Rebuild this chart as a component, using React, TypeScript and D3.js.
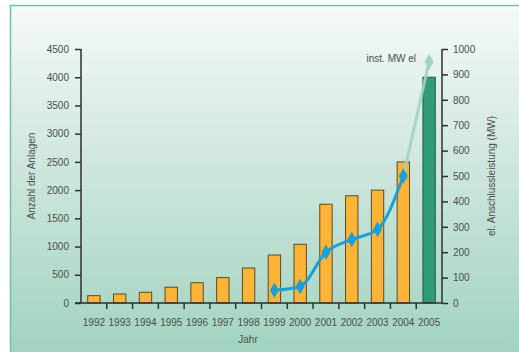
import React, { useEffect, useRef } from 'react';
import * as d3 from 'd3';

const years = ['1992', '1993', '1994', '1995', '1996', '1997', '1998', '1999', '2000', '2001', '2002', '2003', '2004', '2005'];
const anlagen = [130, 160, 190, 280, 360, 450, 620, 850, 1040, 1750, 1900, 2000, 2500, 4000];
const mwYears = ['1999', '2000', '2001', '2002', '2003', '2004', '2005'];
const mwValues = [50, 65, 200, 250, 290, 500, 950];
const leftTicks = [0, 500, 1000, 1500, 2000, 2500, 3000, 3500, 4000, 4500];
const rightTicks = [0, 100, 200, 300, 400, 500, 600, 700, 800, 900, 1000];

const W = 519;
const H = 352;

const App: React.FC = () => {
  const svgRef = useRef<SVGSVGElement>(null);

  useEffect(() => {
    if (!svgRef.current) return;
    const svg = d3.select(svgRef.current);
    svg.selectAll('*').remove();

    const left = 81, right = 442, top = 49, bottom = 303;
    const font = '"Liberation Sans Narrow", "Liberation Sans", Arial, sans-serif';
    const textColor = '#4a4f4c';
    const axisColor = '#2e302e';

    // background panel
    const defs = svg.append('defs');
    const grad = defs.append('linearGradient')
      .attr('id', 'bg').attr('x1', 0).attr('y1', 0).attr('x2', 0).attr('y2', 1);
    grad.append('stop').attr('offset', '0%').attr('stop-color', '#f6faf8');
    grad.append('stop').attr('offset', '45%').attr('stop-color', '#cfe7de');
    grad.append('stop').attr('offset', '100%').attr('stop-color', '#a2d3c0');

    svg.append('rect').attr('width', W).attr('height', H).attr('fill', '#ffffff');
    svg.append('rect')
      .attr('x', 10).attr('y', 5).attr('width', W - 10).attr('height', H - 5)
      .attr('fill', 'url(#bg)');
    svg.append('path')
      .attr('d', `M10.5,${H} V5.5 H${W}`)
      .attr('fill', 'none').attr('stroke', '#6fc2a4').attr('stroke-width', 1.5);

    const x = d3.scaleBand<string>().domain(years).range([left, right]).paddingInner(0.52).paddingOuter(0.26);
    const yL = d3.scaleLinear().domain([0, 4500]).range([bottom, top]);
    const yR = d3.scaleLinear().domain([0, 1000]).range([bottom, top]);
    const step = x.step();

    // bars
    svg.append('g')
      .selectAll('rect')
      .data(years)
      .enter()
      .append('rect')
      .attr('x', d => x(d)! )
      .attr('y', (d, i) => yL(anlagen[i]))
      .attr('width', x.bandwidth())
      .attr('height', (d, i) => bottom - yL(anlagen[i]))
      .attr('fill', d => d === '2005' ? '#2f9b78' : '#fbb436')
      .attr('stroke', d => d === '2005' ? '#2a5a48' : '#5e4a28')
      .attr('stroke-width', 1);

    // left axis
    const gL = svg.append('g').attr('transform', `translate(${left},0)`)
      .call(d3.axisLeft(yL).tickValues(leftTicks).tickSize(6).tickPadding(6).tickFormat(d3.format('d')));
    gL.select('.domain').attr('stroke', axisColor).attr('stroke-width', 1.5).attr('d', `M0,${top}V${bottom}`);
    gL.selectAll('.tick line').attr('stroke', axisColor).attr('stroke-width', 1.5);
    gL.selectAll('.tick text').attr('fill', textColor).style('font-family', font).style('font-size', '10px');

    // right axis
    const gR = svg.append('g').attr('transform', `translate(${right},0)`)
      .call(d3.axisRight(yR).tickValues(rightTicks).tickSize(6).tickPadding(5).tickFormat(d3.format('d')));
    gR.select('.domain').attr('stroke', axisColor).attr('stroke-width', 1.5).attr('d', `M0,${top}V${bottom}`);
    gR.selectAll('.tick line').attr('stroke', axisColor).attr('stroke-width', 1.5);
    gR.selectAll('.tick text').attr('fill', textColor).style('font-family', font).style('font-size', '10px');

    // bottom axis
    const gB = svg.append('g').attr('transform', `translate(0,${bottom})`);
    gB.append('line')
      .attr('x1', left - 6).attr('x2', right).attr('y1', 0).attr('y2', 0)
      .attr('stroke', axisColor).attr('stroke-width', 1.5);
    gB.selectAll('line.tk')
      .data(years.slice(1))
      .enter()
      .append('line')
      .attr('class', 'tk')
      .attr('x1', d => x(d)! - (step - x.bandwidth()) / 2)
      .attr('x2', d => x(d)! - (step - x.bandwidth()) / 2)
      .attr('y1', 0).attr('y2', 6)
      .attr('stroke', axisColor).attr('stroke-width', 1.5);
    gB.selectAll('text')
      .data(years)
      .enter()
      .append('text')
      .attr('x', d => x(d)! + x.bandwidth() / 2)
      .attr('y', 23)
      .attr('text-anchor', 'middle')
      .attr('fill', textColor)
      .style('font-family', font)
      .style('font-size', '10px')
      .text(d => d);

    // MW line
    const pts: [number, number][] = mwYears.map((yr, i) => [x(yr)! + x.bandwidth() / 2, yR(mwValues[i])]);
    const line = d3.line().curve(d3.curveMonotoneX);
    svg.append('path')
      .attr('d', line(pts.slice(5))!)
      .attr('fill', 'none').attr('stroke', '#9fd5c2').attr('stroke-width', 3).attr('opacity', 0.9);
    svg.append('path')
      .attr('d', line(pts.slice(0, 6))!)
      .attr('fill', 'none').attr('stroke', '#1b9fd6').attr('stroke-width', 3);

    const diamond = d3.symbol().type(d3.symbolDiamond).size(70);
    svg.append('g')
      .selectAll('path')
      .data(pts)
      .enter()
      .append('path')
      .attr('transform', d => `translate(${d[0]},${d[1]})`)
      .attr('d', diamond()!)
      .attr('fill', (d, i) => i === pts.length - 1 ? '#9fd5c2' : '#1b9fd6');

    svg.append('text')
      .attr('x', 416).attr('y', 62)
      .attr('text-anchor', 'end')
      .attr('fill', textColor)
      .style('font-family', font).style('font-size', '10px')
      .text('inst. MW el');

    // axis titles
    svg.append('text')
      .attr('transform', `translate(35,${(top + bottom) / 2}) rotate(-90)`)
      .attr('text-anchor', 'middle')
      .attr('fill', textColor)
      .style('font-family', font).style('font-size', '10px')
      .text('Anzahl der Anlagen');

    svg.append('text')
      .attr('transform', `translate(495,${(top + bottom) / 2}) rotate(-90)`)
      .attr('text-anchor', 'middle')
      .attr('fill', textColor)
      .style('font-family', font).style('font-size', '10px')
      .text('el. Anschlussleistung (MW)');

    svg.append('text')
      .attr('x', 248).attr('y', 343)
      .attr('text-anchor', 'middle')
      .attr('fill', textColor)
      .style('font-family', font).style('font-size', '10px')
      .text('Jahr');
  }, []);

  return (
    <svg ref={svgRef} width={W} height={H} viewBox={`0 0 ${W} ${H}`}
      style={{ position: 'absolute', left: 0, top: 0, display: 'block' }} />
  );
};

export default App;
